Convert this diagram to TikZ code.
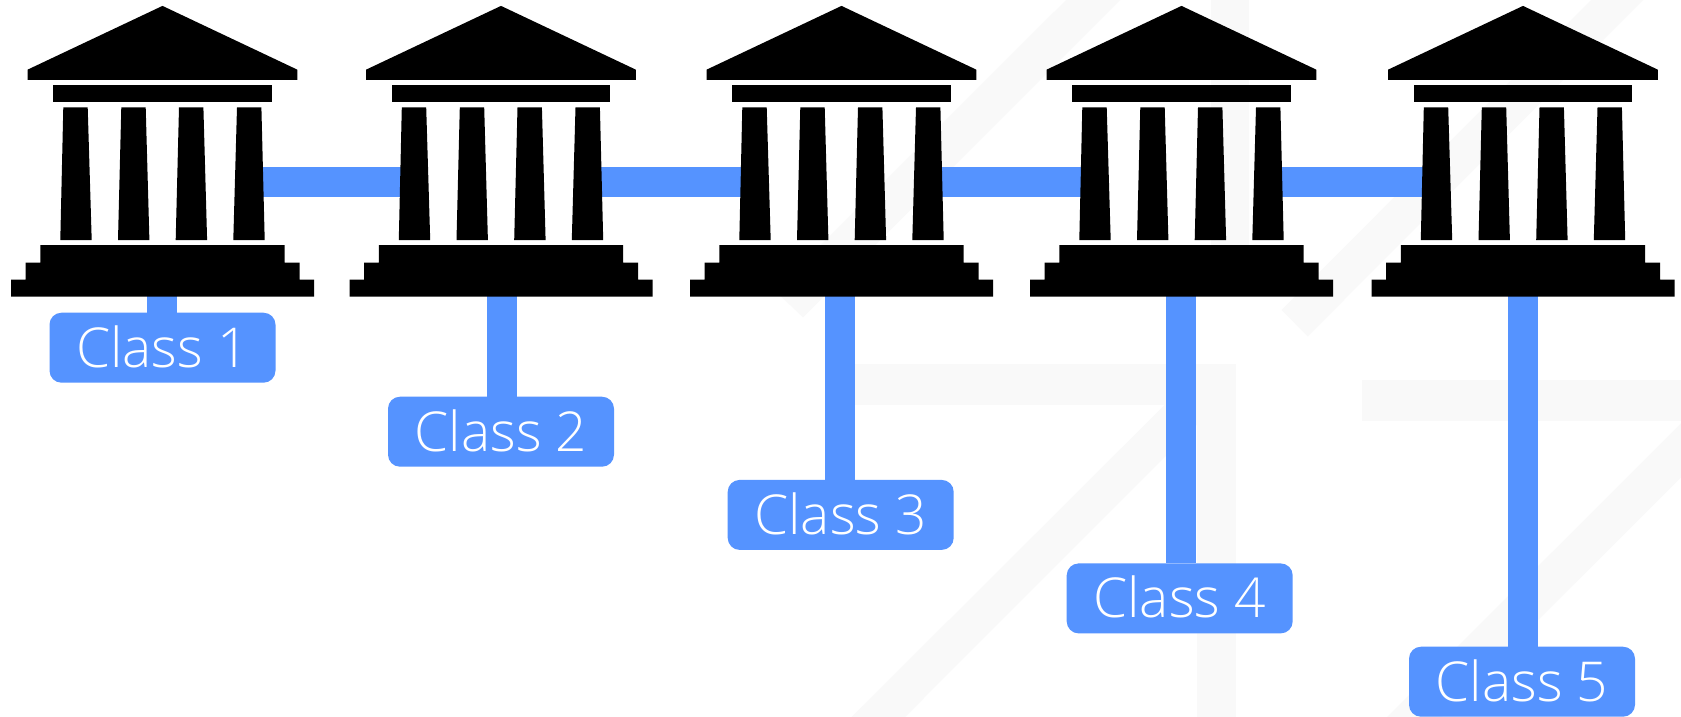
\documentclass[tikz,border=0pt]{standalone}
\usepackage{fontspec}
\setmainfont{Open Sans Light}
\definecolor{linkblue}{HTML}{5593FF}
\definecolor{wm}{HTML}{F9F9F9}
\tikzset{
  link/.style={draw=linkblue,line width=30pt},
  watermark/.style={fill=wm,draw=none},
  templepart/.style={fill=black,draw=none},
  classbox/.style={rectangle,rounded corners=12pt,fill=linkblue,draw=none,text=white,
    minimum width=226pt,minimum height=70pt,inner sep=0pt,text height=39pt,text depth=0pt,
    font=\fontsize{55}{60}\selectfont}
}
\begin{document}
\begin{tikzpicture}[x=1pt,y=-1pt]
\useasboundingbox (0,-0.7) rectangle (1681,716.3);
\fill[white] (0,-0.7) rectangle (1681,716.3);
% watermark
\fill[watermark] (1066,-0.7) -- (1120,-0.7) -- (803,316.7) -- (775,290) -- cycle;
\fill[watermark] (1591,-0.7) -- (1643,-0.7) -- (1307.7,335.7) -- (1281.7,309.3) -- cycle;
\fill[watermark] (1211,-0.7) rectangle (1249,280);
\fill[watermark] (830,363) rectangle (1235.5,404);
\fill[watermark] (1197,363) rectangle (1235.5,716.3);
\fill[watermark] (1197,372) -- (1197,424) -- (905,716.3) -- (851.7,716.3) -- cycle;
\fill[watermark] (1362,379) rectangle (1681,420);
\fill[watermark] (1681,422.7) -- (1681,476.7) -- (1441,716.3) -- (1387,716.3) -- cycle;
% anchors and class boxes
\foreach \i/\cx/\bx/\by/\sx in {1/162.5/162.5/347/162,2/501/501/431/501.7,3/841.5/840.7/514.2/840,4/1181.5/1179.7/597.7/1181,5/1523/1522/681/1523}{
  \coordinate (l\i) at (\cx-85,181.2);
  \coordinate (r\i) at (\cx+85,181.2);
  \coordinate (b\i) at (\sx,290);
  \node[classbox] (c\i) at (\bx,\by) {Class \i};
}
% connectors
\foreach \i/\j in {1/2,2/3,3/4,4/5}{ \draw[link] (r\i) -- (l\j); }
\foreach \i in {1,...,5}{ \draw[link] (b\i) -- (b\i |- c\i.north); }
% temples
\foreach \cx in {162.5,501,841.5,1181.5,1523}{
\begin{scope}[shift={(\cx,0)}]
  \fill[templepart] (0,5.2) -- (134.9,69) -- (134.9,79.3) -- (-135,79.3) -- (-135,69) -- cycle;
  \fill[templepart] (-109.2,84.3) rectangle (109.2,101.3);
  \foreach \tl/\bl in {-99.2/-102.2,-41.2/-44.5,16.5/13.2,74.5/70.8}{
    \fill[templepart] (\tl,106.7) -- (\tl+24.4,106.7) -- (\bl+31.4,239.3) -- (\bl,239.3) -- cycle;
  }
  \fill[templepart] (-122.2,244.3) -- (122.2,244.3) -- (122.2,262) -- (137,262) -- (137,279)
     -- (151.5,279) -- (151.5,296) -- (-151.5,296) -- (-151.5,279) -- (-137,279) -- (-137,262)
     -- (-122.2,262) -- cycle;
\end{scope}
}
\end{tikzpicture}
\end{document}
